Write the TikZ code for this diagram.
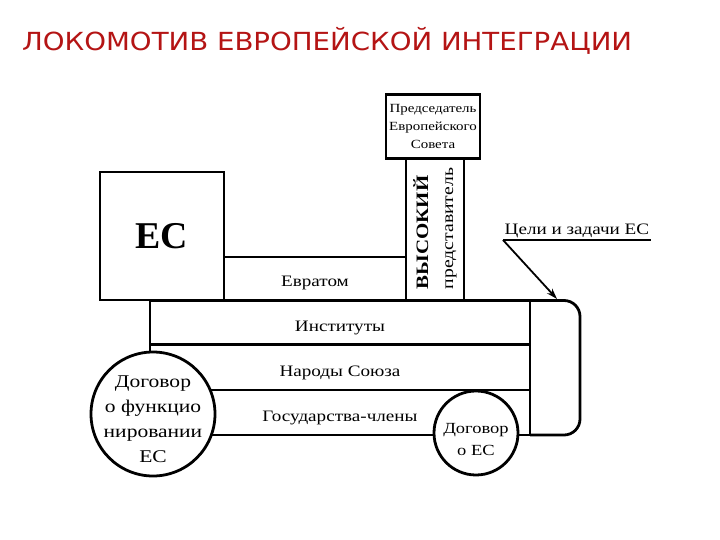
\documentclass[tikz,border=0pt]{standalone}
\usepackage{fontspec}
\setmainfont{Liberation Serif}
\newfontfamily\titlefont[FakeStretch=1.11]{DejaVu Sans}
\newfontfamily\widefont[FakeStretch=1.2]{Liberation Serif}
\definecolor{TitleRed}{HTML}{B41414}
\definecolor{LineBlack}{HTML}{000000}
\definecolor{PaperWhite}{HTML}{FFFFFF}
\usetikzlibrary{arrows.meta, positioning}
\tikzset{
    % boxes of the locomotive
    part/.style={
        rectangle,
        draw=LineBlack,
        fill=PaperWhite,
        line width=2.8pt,
        inner sep=0pt,
        align=center,
        font=\widefont\fontsize{16}{18}\selectfont
    },
    part row/.style={
        part,
        text height=17bp,
        text depth=0bp
    },
    part small/.style={
        part,
        font=\widefont\fontsize{12.5}{18}\selectfont
    },
    wheel/.style={
        circle,
        draw=LineBlack,
        fill=PaperWhite,
        line width=2.8pt,
        inner sep=-24bp,
        align=center,
        font=\widefont\fontsize{18}{25}\selectfont
    },
    arrow style/.style={
        -{Stealth[length=11pt, width=7pt]},
        line width=1.8pt,
        LineBlack
    }
}
\begin{document}
\begin{tikzpicture}[x=1bp, y=-1bp]
    \useasboundingbox (0,0) rectangle (720,540);
    \node[anchor=base west, text=TitleRed, font=\titlefont\fontsize{25}{28}\selectfont, inner sep=0pt] (title) at (22,51) {ЛОКОМОТИВ ЕВРОПЕЙСКОЙ ИНТЕГРАЦИИ};

    % cabin and chimney
    \node[part, minimum width=124bp, minimum height=128bp, font=\bfseries\fontsize{38}{40}\selectfont] (ec) at (162,236) {ЕС};
    \node[part row, minimum width=182bp, minimum height=43bp] (euratom) at (315,278.5) {Евратом};
    \node[part, rotate=90, align=left, minimum width=143bp, minimum height=58bp, font=\widefont\fontsize{16.5}{25}\selectfont] (envoy) at (435,228.5) {{\bfseries\fontsize{17.5}{25}\selectfont ВЫСОКИЙ}\\представитель};
    \node[part small, minimum width=94bp, minimum height=64bp] (chair) at (433,126.5) {Председатель\\Европейского\\Совета};

    % body
    \node[part row, minimum width=380bp, minimum height=44bp] (inst) at (340,322.5) {Институты};
    \node[part row, minimum width=380bp, minimum height=45bp] (peoples) at (340,367.5) {Народы Союза};
    \node[part row, minimum width=380bp, minimum height=45bp] (states) at (340,412.5) {Государства-члены};
    \coordinate (front top) at (530,300.5);
    \coordinate (front bottom) at (530,435);
    \draw[line width=2.8pt, rounded corners=16bp] (front top) -- (580,300.5) -- (580,435) -- (front bottom);

    % wheels
    \node[wheel, minimum size=124bp] (tfeu) at (153,414) {\\[-3bp]Договор\\о функцио\\нировании\\ЕС};
    \node[wheel, minimum size=84bp, font=\widefont\fontsize{15.5}{22}\selectfont] (teu) at (476,433) {\\[2bp]Договор\\о ЕС};

    % goals
    \node[anchor=south west, inner sep=1.5bp, font=\widefont\fontsize{16}{18}\selectfont] (goals) at (503,240) {Цели и задачи ЕС};
    \draw[line width=1.8pt] (goals.south west) -- (goals.south east);
    \coordinate (goal tip) at (557,299);
    \draw[arrow style] (goals.south west) -- (goal tip);
\end{tikzpicture}
\end{document}
